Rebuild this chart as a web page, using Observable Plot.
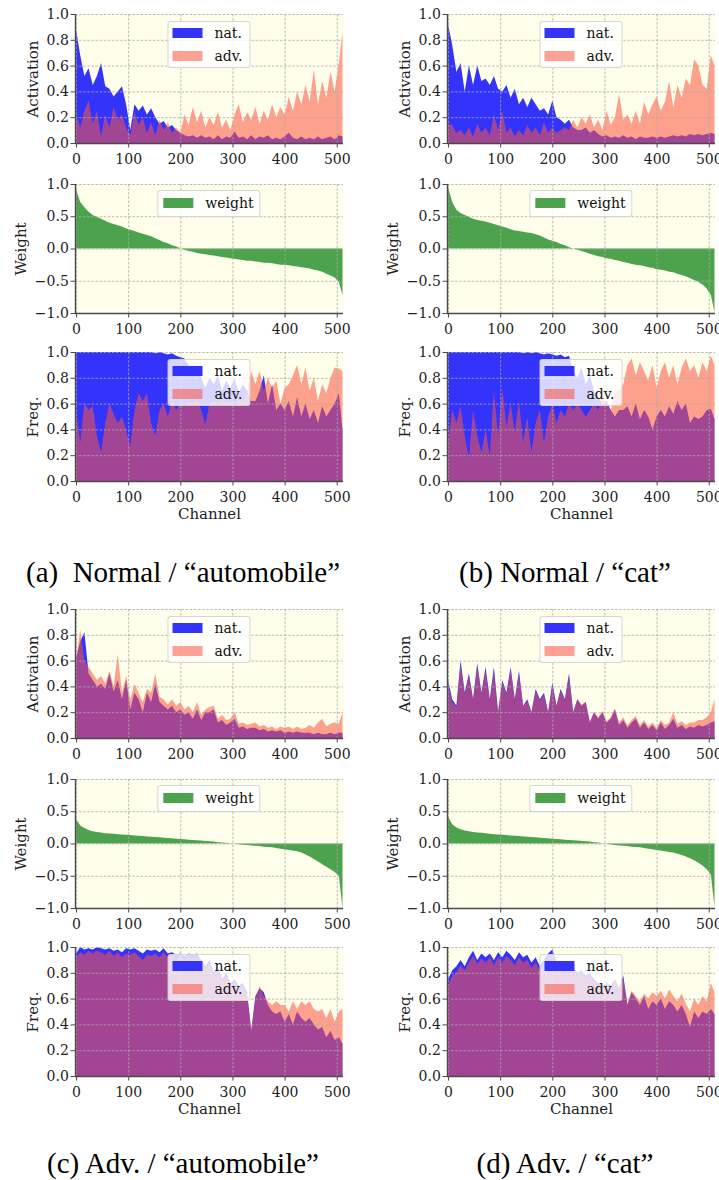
<!DOCTYPE html>
<html><head><meta charset="utf-8">
<script src="https://cdn.jsdelivr.net/npm/d3@7"></script>
<script src="https://cdn.jsdelivr.net/npm/@observablehq/plot@0.6"></script>
<style>
body{margin:0;background:#fff;}
#root{position:relative;width:719px;height:1180px;overflow:hidden;background:#fff;}
.sub{position:absolute;}
.sub svg, .sub svg text{font-family:"DejaVu Serif","Bitstream Vera Serif",serif !important;}
.legend{position:absolute;transform:translateX(-50%);background:rgba(255,255,255,0.8);border:1px solid rgba(204,204,204,0.8);border-radius:3px;font-family:"DejaVu Serif","Bitstream Vera Serif",serif;font-size:14px;color:#111;white-space:nowrap;}
.row{display:flex;align-items:center;height:18px;}
.row + .row{margin-top:5px;}
.sw{width:30px;height:10px;margin-right:12px;flex:none;}
.cap{position:absolute;font-family:"Liberation Serif","Times New Roman",serif;font-size:29px;transform:translate(-50%,-50%);white-space:pre;color:#000;}
</style></head><body><div id="root"></div>
<script>
// ---------- data (sampled every 8 channels, last = 511) ----------
const channels = [...d3.range(0, 512, 8), 511];
const xTicks = [0, 100, 200, 300, 400, 500];
const yTicks01 = [0, 0.2, 0.4, 0.6, 0.8, 1.0];
const yTicksW = [-1.0, -0.5, 0.0, 0.5, 1.0];

// (a) Normal / automobile
const aActNat = [0.88,0.68,0.52,0.58,0.45,0.52,0.62,0.44, 0.42,0.36,0.40,0.44,0.30,0.10,0.30,0.25,
  0.29,0.22,0.27,0.20,0.15,0.17,0.12,0.14, 0.10,0.08,0.06,0.05,0.06,0.04,0.06,0.04,
  0.05,0.03,0.06,0.03,0.05,0.04,0.09,0.04, 0.05,0.03,0.06,0.03,0.05,0.04,0.06,0.03,
  0.04,0.03,0.05,0.08,0.04,0.03,0.05,0.03, 0.04,0.03,0.05,0.03,0.04,0.05,0.03,0.06, 0.05];
const aActAdv = [0.22,0.12,0.25,0.33,0.15,0.25,0.05,0.22, 0.12,0.28,0.18,0.22,0.12,0.06,0.24,0.14,
  0.20,0.08,0.16,0.06,0.18,0.10,0.16,0.08, 0.12,0.08,0.22,0.14,0.28,0.16,0.25,0.12,
  0.20,0.14,0.24,0.12,0.18,0.10,0.22,0.30, 0.16,0.24,0.18,0.28,0.15,0.25,0.18,0.30,
  0.20,0.28,0.22,0.36,0.25,0.40,0.30,0.45, 0.32,0.57,0.30,0.48,0.35,0.55,0.40,0.62, 0.85];
const aWeight = [0.92,0.72,0.64,0.57,0.52,0.49,0.46,0.43, 0.40,0.38,0.36,0.34,0.31,0.29,0.27,0.25,
  0.23,0.21,0.19,0.16,0.13,0.10,0.08,0.05, 0.03,0.005,-0.02,-0.04,-0.05,-0.07,-0.08,-0.09,
  -0.10,-0.11,-0.12,-0.13,-0.14,-0.15,-0.16,-0.17, -0.18,-0.19,-0.19,-0.20,-0.21,-0.22,-0.22,-0.23,
  -0.24,-0.25,-0.25,-0.26,-0.27,-0.28,-0.29,-0.30, -0.31,-0.33,-0.34,-0.36,-0.39,-0.42,-0.45,-0.52, -0.72];
const aFreqNat = [1,1,1,1,1,1,1,1, 1,1,1,1,1,1,1,1,
  1,1,1,0.99,1,0.99,0.98,0.99, 0.97,0.96,0.95,0.90,0.85,0.90,0.80,0.72,
  0.80,0.75,0.82,0.70,0.78,0.72,0.80,0.68, 0.75,0.70,0.62,0.62,0.70,0.82,0.60,0.75,
  0.55,0.60,0.55,0.62,0.50,0.65,0.50,0.60, 0.48,0.55,0.45,0.58,0.50,0.55,0.60,0.68, 0.40];
const aFreqAdv = [0.55,0.30,0.60,0.55,0.58,0.35,0.22,0.45, 0.60,0.52,0.45,0.50,0.40,0.27,0.55,0.68,
  0.62,0.68,0.45,0.35,0.55,0.60,0.50,0.62, 0.55,0.60,0.58,0.62,0.60,0.65,0.55,0.44,
  0.60,0.62,0.60,0.65,0.60,0.62,0.58,0.65, 0.62,0.70,0.85,0.75,0.85,0.70,0.80,0.72,
  0.78,0.60,0.72,0.75,0.82,0.90,0.75,0.88, 0.70,0.80,0.62,0.75,0.68,0.80,0.88,0.87, 0.85];

// (b) Normal / cat
const bActNat = [0.92,0.76,0.55,0.62,0.40,0.60,0.45,0.60, 0.48,0.50,0.45,0.52,0.42,0.40,0.45,0.35,
  0.42,0.30,0.35,0.28,0.35,0.30,0.25,0.27, 0.22,0.33,0.20,0.18,0.15,0.18,0.12,0.10,
  0.10,0.12,0.08,0.10,0.07,0.05,0.06,0.04, 0.05,0.04,0.06,0.04,0.05,0.03,0.05,0.04,
  0.04,0.05,0.04,0.05,0.04,0.05,0.06,0.05, 0.06,0.05,0.07,0.06,0.07,0.06,0.07,0.08, 0.07];
const bActAdv = [0.15,0.14,0.08,0.10,0.06,0.12,0.05,0.15, 0.08,0.12,0.06,0.22,0.10,0.25,0.08,0.12,
  0.05,0.10,0.06,0.14,0.08,0.12,0.06,0.16, 0.08,0.12,0.08,0.10,0.12,0.10,0.18,0.12,
  0.20,0.15,0.22,0.12,0.18,0.10,0.25,0.14, 0.20,0.38,0.18,0.22,0.15,0.25,0.15,0.32,
  0.22,0.30,0.36,0.25,0.32,0.48,0.28,0.45, 0.35,0.50,0.45,0.65,0.60,0.45,0.42,0.68, 0.60];
const bWeight = [0.95,0.72,0.60,0.55,0.52,0.49,0.46,0.44, 0.43,0.42,0.40,0.38,0.36,0.34,0.32,0.30,
  0.28,0.27,0.26,0.25,0.24,0.22,0.20,0.17, 0.14,0.12,0.10,0.07,0.05,0.02,0.0,-0.02,
  -0.04,-0.06,-0.08,-0.10,-0.12,-0.13,-0.15,-0.16, -0.18,-0.19,-0.21,-0.22,-0.24,-0.25,-0.26,-0.27,
  -0.29,-0.30,-0.32,-0.33,-0.34,-0.36,-0.37,-0.39, -0.41,-0.43,-0.46,-0.49,-0.52,-0.56,-0.62,-0.72, -0.98];
const bFreqNat = [1,1,1,1,1,1,1,1, 1,1,1,1,1,1,1,1,
  1,1,0.99,1,0.99,1,0.99,0.98, 0.99,0.98,0.97,0.98,0.96,0.97,0.85,0.80,
  0.88,0.75,0.82,0.70,0.65,0.60,0.62,0.55, 0.50,0.55,0.55,0.58,0.50,0.60,0.48,0.55,
  0.50,0.40,0.50,0.55,0.50,0.58,0.52,0.62, 0.55,0.60,0.45,0.50,0.48,0.50,0.55,0.56, 0.48];
const bFreqAdv = [0.30,0.55,0.45,0.58,0.35,0.18,0.55,0.35, 0.22,0.40,0.20,0.70,0.35,0.72,0.42,0.60,
  0.38,0.62,0.30,0.50,0.22,0.45,0.55,0.30, 0.50,0.60,0.45,0.55,0.50,0.60,0.55,0.60,
  0.55,0.50,0.55,0.60,0.55,0.65,0.60,0.55, 0.68,0.70,0.75,0.90,0.95,0.82,0.92,0.85,
  0.78,0.90,0.72,0.85,0.92,0.80,0.90,0.75, 0.88,0.95,0.85,0.90,0.80,0.92,0.85,0.97, 0.90];

// (c) Adv. / automobile
const cActNat = [0.62,0.75,0.82,0.50,0.45,0.40,0.42,0.38, 0.50,0.36,0.45,0.30,0.45,0.22,0.35,0.30,
  0.20,0.35,0.28,0.42,0.28,0.25,0.22,0.25, 0.20,0.22,0.18,0.20,0.15,0.22,0.14,0.20,
  0.20,0.22,0.12,0.14,0.10,0.12,0.15,0.08, 0.09,0.07,0.08,0.08,0.06,0.07,0.05,0.06,
  0.05,0.06,0.04,0.05,0.04,0.05,0.04,0.04, 0.04,0.03,0.04,0.03,0.03,0.04,0.03,0.04, 0.04];
const cActAdv = [0.60,0.84,0.60,0.55,0.50,0.45,0.48,0.42, 0.52,0.40,0.65,0.35,0.48,0.30,0.42,0.35,
  0.28,0.38,0.35,0.50,0.32,0.30,0.26,0.30, 0.25,0.28,0.22,0.25,0.20,0.28,0.18,0.22,
  0.24,0.25,0.15,0.18,0.14,0.15,0.20,0.11, 0.12,0.10,0.11,0.12,0.09,0.10,0.08,0.09,
  0.07,0.09,0.08,0.09,0.07,0.09,0.07,0.08, 0.10,0.08,0.12,0.15,0.09,0.11,0.12,0.11, 0.20];
const cWeight = [0.38,0.28,0.24,0.21,0.19,0.18,0.17,0.16, 0.155,0.15,0.145,0.14,0.135,0.13,0.125,0.12,
  0.115,0.11,0.105,0.10,0.095,0.09,0.085,0.08, 0.075,0.07,0.065,0.06,0.055,0.05,0.045,0.04,
  0.035,0.03,0.02,0.015,0.01,0.003,-0.005,-0.01, -0.02,-0.025,-0.03,-0.035,-0.04,-0.05,-0.055,-0.06,
  -0.07,-0.08,-0.09,-0.10,-0.11,-0.12,-0.14,-0.17, -0.20,-0.24,-0.28,-0.32,-0.36,-0.40,-0.44,-0.50, -1.0];
const cFreqNat = [0.95,1.0,0.98,0.99,0.98,1.0,0.99,0.98, 0.99,0.97,0.98,0.96,0.99,0.98,0.99,0.97,
  0.95,0.98,0.97,0.98,0.96,0.99,0.95,0.96, 0.94,0.95,0.93,0.95,0.94,0.95,0.90,0.85,
  0.90,0.80,0.85,0.75,0.80,0.72,0.75,0.70, 0.72,0.65,0.35,0.62,0.68,0.65,0.55,0.50,
  0.48,0.50,0.42,0.48,0.40,0.50,0.45,0.42, 0.45,0.40,0.36,0.38,0.30,0.35,0.28,0.30, 0.25];
const cFreqAdv = [0.92,0.96,0.94,0.97,0.95,0.97,0.96,0.94, 0.97,0.93,0.96,0.92,0.95,0.94,0.96,0.93,
  0.90,0.94,0.93,0.95,0.92,0.96,0.92,0.93, 0.90,0.92,0.90,0.92,0.90,0.92,0.87,0.83,
  0.87,0.78,0.82,0.73,0.78,0.70,0.73,0.68, 0.70,0.63,0.35,0.60,0.70,0.62,0.58,0.55,
  0.58,0.55,0.55,0.50,0.58,0.52,0.58,0.55, 0.58,0.52,0.50,0.52,0.45,0.52,0.42,0.50, 0.52];

// (d) Adv. / cat
const dActNat = [0.45,0.30,0.25,0.60,0.35,0.50,0.30,0.58, 0.35,0.55,0.30,0.55,0.20,0.45,0.35,0.55,
  0.30,0.52,0.25,0.30,0.20,0.38,0.30,0.35, 0.20,0.43,0.25,0.38,0.30,0.50,0.20,0.30,
  0.25,0.28,0.12,0.20,0.15,0.20,0.12,0.15, 0.22,0.10,0.14,0.08,0.12,0.15,0.08,0.12,
  0.07,0.10,0.06,0.12,0.07,0.10,0.15,0.08, 0.10,0.07,0.09,0.08,0.10,0.09,0.10,0.12, 0.13];
const dActAdv = [0.42,0.28,0.24,0.57,0.34,0.48,0.30,0.56, 0.34,0.53,0.29,0.52,0.20,0.44,0.34,0.53,
  0.29,0.50,0.25,0.29,0.20,0.37,0.29,0.34, 0.20,0.41,0.25,0.37,0.29,0.48,0.20,0.30,
  0.26,0.28,0.13,0.20,0.16,0.21,0.13,0.16, 0.23,0.12,0.16,0.10,0.14,0.17,0.10,0.14,
  0.09,0.12,0.08,0.14,0.10,0.12,0.20,0.11, 0.13,0.10,0.12,0.12,0.14,0.14,0.16,0.20, 0.30];
const dWeight = [0.42,0.30,0.25,0.22,0.20,0.19,0.18,0.17, 0.165,0.16,0.15,0.145,0.14,0.135,0.13,0.125,
  0.12,0.115,0.11,0.105,0.10,0.095,0.09,0.085, 0.08,0.075,0.07,0.065,0.06,0.055,0.05,0.045,
  0.04,0.035,0.03,0.02,0.015,0.005,-0.005,-0.015, -0.025,-0.03,-0.035,-0.04,-0.05,-0.055,-0.06,-0.07,
  -0.08,-0.09,-0.10,-0.11,-0.12,-0.13,-0.14,-0.16, -0.18,-0.20,-0.23,-0.26,-0.30,-0.34,-0.40,-0.48, -0.98];
const dFreqNat = [0.75,0.82,0.85,0.90,0.85,0.92,0.97,0.90, 0.95,0.92,0.95,0.90,0.96,0.92,0.97,0.94,
  0.90,0.96,0.92,0.94,0.88,0.92,0.85,0.90, 0.95,0.98,0.88,0.85,0.88,0.82,0.85,0.80,
  0.82,0.78,0.80,0.75,0.72,0.70,0.72,0.70, 0.75,0.68,0.78,0.55,0.65,0.60,0.55,0.62,
  0.52,0.58,0.55,0.60,0.52,0.58,0.55,0.50, 0.55,0.48,0.38,0.50,0.45,0.50,0.48,0.52, 0.48];
const dFreqAdv = [0.70,0.78,0.80,0.86,0.82,0.88,0.93,0.87, 0.91,0.88,0.92,0.86,0.92,0.88,0.93,0.90,
  0.86,0.92,0.88,0.90,0.84,0.88,0.82,0.86, 0.91,0.94,0.85,0.82,0.85,0.79,0.82,0.78,
  0.80,0.76,0.78,0.73,0.70,0.69,0.71,0.69, 0.74,0.67,0.76,0.56,0.66,0.62,0.58,0.64,
  0.60,0.65,0.62,0.66,0.60,0.67,0.62,0.58, 0.64,0.56,0.50,0.60,0.55,0.62,0.58,0.72, 0.65];

const captions = ["(a)  Normal / \u201cautomobile\u201d", "(b) Normal / \u201ccat\u201d",
                  "(c) Adv. / \u201cautomobile\u201d", "(d) Adv. / \u201ccat\u201d"];

// ---------- styles ----------
const FONT = "'DejaVu Serif', 'Bitstream Vera Serif', serif";
const BG = "#fefeea", NAT = "rgb(51,51,251)", ADV = "rgb(252,83,63)", ADV_OP = 0.55, WCOL = "rgb(77,163,77)";
const GRID = {stroke: "#aaaaaa", strokeOpacity: 1, strokeWidth: 0.8, strokeDasharray: "2.5,1.6"};
const SPINE = {stroke: "#4a4a4a", strokeWidth: 1.4};
const xDomain = [-2, 512];

const root = document.getElementById("root");

function rowsPair(nat, adv) {
  if (nat.length !== channels.length || adv.length !== channels.length) throw new Error("length " + nat.length + "/" + adv.length);
  return channels.map((ch, i) => ({ch, nat: nat[i], adv: adv[i]}));
}
function rowsW(w) {
  if (w.length !== channels.length) throw new Error("wlength " + w.length);
  return channels.map((ch, i) => ({ch, w: w[i]}));
}

function addLegend(cx, top, items, weight) {
  const lg = document.createElement("div");
  lg.className = "legend";
  lg.style.left = cx + "px";
  lg.style.top = top + "px";
  lg.style.padding = weight ? "3px 6px 4px 5px" : "2px 7px 2px 4px";
  for (const it of items) {
    const r = document.createElement("div"); r.className = "row";
    const sw = document.createElement("div"); sw.className = "sw";
    sw.style.background = it.color;
    const t = document.createElement("span"); t.textContent = it.label;
    r.appendChild(sw); r.appendChild(t); lg.appendChild(r);
  }
  root.appendChild(lg);
}

function subplot({left, axisTop, kind, data, ylabel, ylabelDx, channel}) {
  const marginTop = 8, marginBottom = channel ? 45 : 22, ph = 129;
  const weight = kind === "weight";
  const yDomain = weight ? [-1, 1] : [0, 1];
  const yTicks = weight ? yTicksW : yTicks01;
  const marks = [Plot.frame({fill: BG, stroke: null})];
  if (weight) {
    marks.push(Plot.areaY(data, {x: "ch", y1: 0, y2: "w", fill: WCOL}));
  } else {
    marks.push(Plot.areaY(data, {x: "ch", y1: 0, y2: "nat", fill: NAT}));
    marks.push(Plot.areaY(data, {x: "ch", y1: 0, y2: "adv", fill: ADV, fillOpacity: ADV_OP}));
  }
  marks.push(
    Plot.gridX(xTicks, GRID),
    Plot.gridY(yTicks, GRID),
    Plot.ruleX([xDomain[0]], SPINE),
    Plot.ruleY([yDomain[0]], SPINE),
    Plot.axisX(xTicks, {tickSize: 4.5, tickPadding: 6.5, tickFormat: "d", label: null, stroke: "#4a4a4a", fill: "#222", fontSize: 14, fontFamily: FONT}),
    Plot.axisY(yTicks, {tickSize: 4.5, tickPadding: 2.2, tickFormat: d3.format(".1f"), label: null, stroke: "#4a4a4a", fill: "#222", fontSize: 14, fontFamily: FONT}),
    Plot.text([ylabel], {text: d => d, frameAnchor: "left", textAnchor: "middle", lineAnchor: "middle", dx: ylabelDx, rotate: -90, fontSize: 15, fill: "#222", fontFamily: FONT})
  );
  if (channel) marks.push(Plot.text(["Channel"], {text: d => d, frameAnchor: "bottom", textAnchor: "middle", lineAnchor: "middle", dy: 33, fontSize: 15, fill: "#222", fontFamily: FONT}));
  const svg = Plot.plot({
    width: 347, height: marginTop + ph + marginBottom,
    marginLeft: 75, marginRight: 4, marginTop, marginBottom,
    x: {domain: xDomain}, y: {domain: yDomain},
    style: {fontFamily: FONT, fontSize: "14px", background: "transparent", overflow: "visible", color: "#222"},
    marks
  });
  const box = document.createElement("div");
  box.className = "sub";
  box.style.left = left + "px";
  box.style.top = (axisTop - marginTop) + "px";
  box.appendChild(svg);
  root.appendChild(box);
  const cx = left + 75 + 134;
  if (weight) addLegend(cx, axisTop + 6, [{label: "weight", color: WCOL}], true);
  else addLegend(cx, axisTop + 7, [{label: "nat.", color: NAT}, {label: "adv.", color: `rgba(252,83,63,${ADV_OP})`}], false);
}

const panels = [
  {left: 0,   top: 14,  act: [aActNat, aActAdv], w: aWeight, fr: [aFreqNat, aFreqAdv], cap: captions[0], capX: 183, capY: 572},
  {left: 372, top: 14,  act: [bActNat, bActAdv], w: bWeight, fr: [bFreqNat, bFreqAdv], cap: captions[1], capX: 565, capY: 572},
  {left: 0,   top: 609, act: [cActNat, cActAdv], w: cWeight, fr: [cFreqNat, cFreqAdv], cap: captions[2], capX: 183, capY: 1163},
  {left: 372, top: 609, act: [dActNat, dActAdv], w: dWeight, fr: [dFreqNat, dFreqAdv], cap: captions[3], capX: 565, capY: 1163}
];

for (const p of panels) {
  subplot({left: p.left, axisTop: p.top, kind: "act", data: rowsPair(...p.act), ylabel: "Activation", ylabelDx: -42.5});
  subplot({left: p.left, axisTop: p.top + 170, kind: "weight", data: rowsW(p.w), ylabel: "Weight", ylabelDx: -54});
  subplot({left: p.left, axisTop: p.top + 338, kind: "freq", data: rowsPair(...p.fr), ylabel: "Freq.", ylabelDx: -42.5, channel: true});
  const c = document.createElement("div");
  c.className = "cap";
  c.style.left = p.capX + "px";
  c.style.top = p.capY + "px";
  c.textContent = p.cap;
  root.appendChild(c);
}
</script></body></html>
